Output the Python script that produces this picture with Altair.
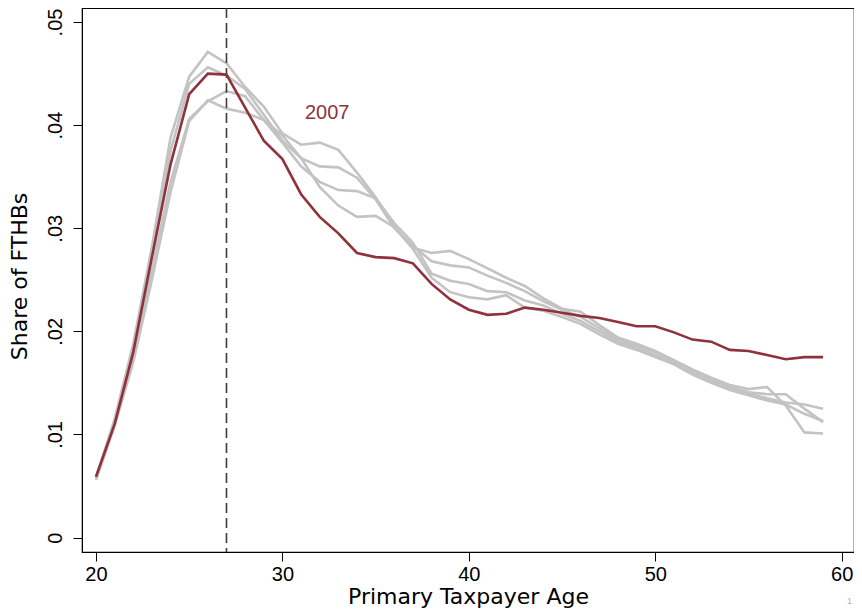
import altair as alt
import pandas as pd

# ---- data ----
ages = list(range(20, 60))

share_2007 = [0.0059, 0.0110, 0.0180, 0.0272, 0.0362, 0.0430, 0.0450, 0.0449, 0.0417, 0.0385,
              0.0367, 0.0333, 0.0311, 0.0295, 0.0276, 0.0272, 0.0271, 0.0266, 0.0246, 0.0231,
              0.0221, 0.0216, 0.0217, 0.0223, 0.0221, 0.0218, 0.0215, 0.0213, 0.0209, 0.0205,
              0.0205, 0.0199, 0.0192, 0.0190, 0.0182, 0.0181, 0.0177, 0.0173, 0.0175, 0.0175]

share_other_a = [0.0058, 0.0115, 0.0188, 0.0282, 0.0388, 0.0447, 0.0471, 0.0460, 0.0437, 0.0418,
                 0.0392, 0.0381, 0.0383, 0.0376, 0.0354, 0.0330, 0.0302, 0.0281, 0.0276, 0.0278,
                 0.0270, 0.0261, 0.0252, 0.0244, 0.0232, 0.0222, 0.0219, 0.0206, 0.0194, 0.0188,
                 0.0181, 0.0172, 0.0163, 0.0155, 0.0148, 0.0144, 0.0146, 0.0128, 0.0102, 0.0101]

share_other_b = [0.0057, 0.0112, 0.0182, 0.0275, 0.0375, 0.0440, 0.0456, 0.0448, 0.0435, 0.0410,
                 0.0385, 0.0368, 0.0360, 0.0359, 0.0349, 0.0328, 0.0300, 0.0283, 0.0268, 0.0264,
                 0.0262, 0.0254, 0.0247, 0.0239, 0.0229, 0.0221, 0.0214, 0.0203, 0.0192, 0.0186,
                 0.0180, 0.0171, 0.0162, 0.0154, 0.0146, 0.0141, 0.0139, 0.0139, 0.0125, 0.0112]

share_other_c = [0.0057, 0.0110, 0.0175, 0.0260, 0.0345, 0.0406, 0.0423, 0.0433, 0.0428, 0.0405,
                 0.0383, 0.0360, 0.0345, 0.0337, 0.0336, 0.0329, 0.0305, 0.0286, 0.0256, 0.0249,
                 0.0246, 0.0239, 0.0238, 0.0230, 0.0225, 0.0217, 0.0210, 0.0200, 0.0190, 0.0184,
                 0.0177, 0.0169, 0.0160, 0.0152, 0.0145, 0.0140, 0.0135, 0.0131, 0.0129, 0.0125]

share_other_d = [0.0056, 0.0108, 0.0170, 0.0250, 0.0335, 0.0404, 0.0424, 0.0416, 0.0412, 0.0405,
                 0.0390, 0.0368, 0.0340, 0.0322, 0.0311, 0.0312, 0.0301, 0.0280, 0.0252, 0.0238,
                 0.0233, 0.0231, 0.0235, 0.0223, 0.0220, 0.0214, 0.0207, 0.0197, 0.0188, 0.0182,
                 0.0175, 0.0168, 0.0158, 0.0150, 0.0143, 0.0138, 0.0133, 0.0129, 0.0120, 0.0113]

x_ticks = [20, 30, 40, 50, 60]
y_ticks = [0, 0.01, 0.02, 0.03, 0.04, 0.05]
ref_age = [27]
label_text = ["2007"]
label_age = [32.4]
label_share = [0.0412]

RED = "#8f323b"
GRAY = "#c3c3c3"

# ---- tables ----
other = pd.concat([
    pd.DataFrame({"age": ages, "share": s, "series": name})
    for name, s in [("a", share_other_a), ("b", share_other_b),
                    ("c", share_other_c), ("d", share_other_d)]
])
red = pd.DataFrame({"age": ages, "share": share_2007, "series": "2007"})
ref = pd.DataFrame({"age": ref_age})
lab = pd.DataFrame({"age": label_age, "share": label_share, "text": label_text})

xs = alt.Scale(domain=[19.25, 60.66], nice=False, zero=False)
ys = alt.Scale(domain=[-0.0014, 0.05136], nice=False, zero=False)

xaxis = alt.Axis(values=x_ticks, title="Primary Taxpayer Age", grid=False,
                 tickSize=9, labelPadding=3, labelFontSize=20, labelFont="Liberation Sans",
                 titleFont="DejaVu Sans", titleFontSize=22, titleFontWeight="normal",
                 titleY=51, titleBaseline="alphabetic", titleColor="black",
                 labelColor="black", tickColor="black", domainColor="black")
yaxis = alt.Axis(values=y_ticks, title="Share of FTHBs", grid=False,
                 tickSize=9, labelPadding=8, labelFontSize=20, labelFont="Liberation Sans",
                 labelAngle=270, labelAlign="center", labelBaseline="bottom",
                 labelExpr="datum.value == 0 ? '0' : replace(format(datum.value, '.2f'), '0.', '.')",
                 titleFont="DejaVu Sans", titleFontSize=22, titleFontWeight="normal",
                 titleAngle=270, titleX=-56, titleY=268, titleAlign="center",
                 titleBaseline="alphabetic", titleColor="black",
                 labelColor="black", tickColor="black", domainColor="black")

gray_lines = alt.Chart(other).mark_line(color=GRAY, strokeWidth=2.6).encode(
    x=alt.X("age:Q", scale=xs, axis=xaxis),
    y=alt.Y("share:Q", scale=ys, axis=yaxis),
    detail="series:N",
)
red_line = alt.Chart(red).mark_line(color=RED, strokeWidth=2.6).encode(
    x=alt.X("age:Q", scale=xs),
    y=alt.Y("share:Q", scale=ys),
)
rule = alt.Chart(ref).mark_rule(color="#3c3c3c", strokeWidth=1.6, strokeDash=[10, 5]).encode(
    x=alt.X("age:Q", scale=xs),
)
text = alt.Chart(lab).mark_text(color=RED, fontSize=20, font="Liberation Sans",
                                align="center", baseline="middle").encode(
    x=alt.X("age:Q", scale=xs),
    y=alt.Y("share:Q", scale=ys),
    text="text:N",
)
corner = alt.Chart(pd.DataFrame({"t": ["1"]})).mark_text(
    color="#b0b0b0", fontSize=9, font="Liberation Sans", align="right", baseline="bottom"
).encode(x=alt.value(770), y=alt.value(598), text="t:N")

chart = alt.layer(gray_lines, rule, red_line, text, corner).properties(
    width=772, height=544,
    background="white",
    autosize=alt.AutoSizeParams(type="none"),
    padding={"left": 74, "top": 0, "right": 0, "bottom": 56},
).configure_view(stroke="black", strokeWidth=1.2)

chart.save("out.html", embed_options={"renderer": "svg", "actions": False})
